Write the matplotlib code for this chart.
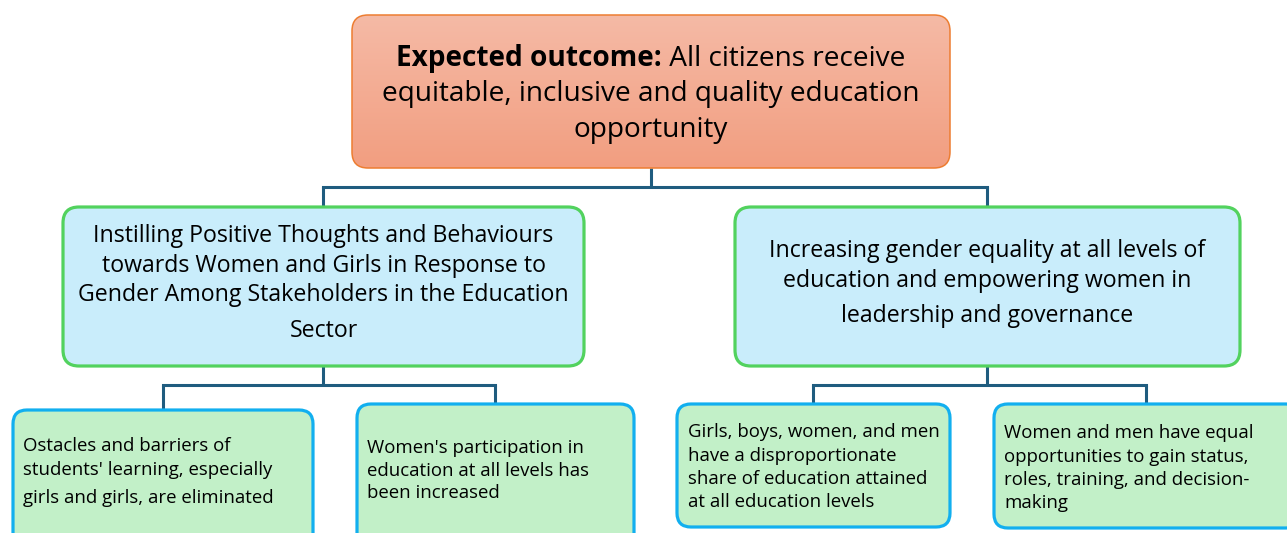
import matplotlib
matplotlib.use("Agg")
import numpy as np
import matplotlib.pyplot as plt
from matplotlib.patches import FancyBboxPatch
from matplotlib.colors import LinearSegmentedColormap

# ---------------- content ----------------
top_bold = "Expected outcome:"
top_rest = " All citizens receive"
top_lines = ["equitable, inclusive and quality education", "opportunity"]

mid_left_lines = [
    "Instilling Positive Thoughts and Behaviours",
    "towards Women and Girls in Response to",
    "Gender Among Stakeholders in the Education",
    "Sector",
]
mid_right_lines = [
    "Increasing gender equality at all levels of",
    "education and empowering women in",
    "leadership and governance",
]
bottom_texts = [
    ["Ostacles and barriers of", "students' learning, especially", "girls and girls, are eliminated"],
    ["Women's participation in", "education at all levels has", "been increased"],
    ["Girls, boys, women, and men", "have a disproportionate", "share of education attained", "at all education levels"],
    ["Women and men have equal", "opportunities to gain status,", "roles, training, and decision-", "making"],
]

# ---------------- layout (pixels, y downwards) ----------------
W, H = 1287, 533
top_box = (352, 15, 950, 168)
mid_boxes = [(63, 207, 584, 366), (735, 207, 1240, 366)]
bot_boxes = [(13, 410, 313, 548), (357, 404, 634, 548), (677, 404, 950, 527), (994, 404, 1300, 528)]

top_baselines = [66, 101, 137]
mid_baselines = [[242, 272, 301, 337], [257, 287, 322]]
bot_baselines = [[451, 475, 503], [453, 476, 498], [437, 461, 484, 507], [438, 462, 485, 508]]
bot_text_x = [23, 367, 688, 1004]

FONT = "Open Sans"
TOP_FS, MID_FS, BOT_FS = 20.2, 16.7, 13.4

CONN = "#1F5C7F"
CONN_LW = 2.2

fig = plt.figure(figsize=(W / 100, H / 100), dpi=100)
ax = fig.add_axes([0, 0, 1, 1])
ax.set_xlim(0, W)
ax.set_ylim(H, 0)
ax.axis("off")


def rbox(b, fc, ec, lw, r, z=2):
    x0, y0, x1, y1 = b
    p = FancyBboxPatch((x0, y0), x1 - x0, y1 - y0,
                       boxstyle=f"round,pad=0,rounding_size={r}",
                       fc=fc, ec=ec, lw=lw, zorder=z)
    ax.add_patch(p)
    return p


# connectors
def conn(parent_x, y_from, y_mid, child_xs, child_tops):
    ax.plot([parent_x, parent_x], [y_from, y_mid], color=CONN, lw=CONN_LW, zorder=1,
            solid_capstyle="butt")
    ax.plot([min(child_xs), max(child_xs)], [y_mid, y_mid], color=CONN, lw=CONN_LW, zorder=1,
            solid_joinstyle="miter", solid_capstyle="projecting")
    for cx, ct in zip(child_xs, child_tops):
        ax.plot([cx, cx], [y_mid, ct], color=CONN, lw=CONN_LW, zorder=1, solid_capstyle="butt")


conn(651, 168, 187, [323, 987], [208, 208])
conn(323, 366, 385, [163, 495], [411, 405])
conn(987, 366, 385, [813, 1146], [405, 405])

# top box with vertical gradient
tb = rbox(top_box, "none", "#ED7D31", 1.1, 16, z=3)
grad_cmap = LinearSegmentedColormap.from_list("g", ["#F5BAA6", "#F29E80"])
grad = np.linspace(0, 1, 256).reshape(-1, 1)
im = ax.imshow(grad, cmap=grad_cmap, aspect="auto",
               extent=(top_box[0], top_box[2], top_box[3], top_box[1]),
               origin="upper", zorder=2)
im.set_clip_path(tb)
ax.set_xlim(0, W)
ax.set_ylim(H, 0)

# middle boxes
for b in mid_boxes:
    rbox(b, "#C9EDFB", "#52D25E", 2.3, 16)

# bottom boxes
for b in bot_boxes:
    rbox(b, "#C2F0C8", "#12AFEF", 2.3, 14)

# ---------------- text ----------------
tb1 = ax.text(0, top_baselines[0], top_bold, fontsize=TOP_FS, family=FONT, weight="bold",
              va="baseline", ha="left", zorder=5)
tb2 = ax.text(0, top_baselines[0], top_rest, fontsize=TOP_FS, family=FONT,
              va="baseline", ha="left", zorder=5)
fig.canvas.draw()
r = fig.canvas.get_renderer()
w1 = tb1.get_window_extent(r).width
w2 = tb2.get_window_extent(r).width
start = 651 - (w1 + w2) / 2
tb1.set_x(start)
tb2.set_x(start + w1)

for line, yb in zip(top_lines, top_baselines[1:]):
    ax.text(651, yb, line, fontsize=TOP_FS, family=FONT, ha="center", va="baseline", zorder=5)

for b, lines, ybs in zip(mid_boxes, [mid_left_lines, mid_right_lines], mid_baselines):
    cx = (b[0] + b[2]) / 2
    for line, yb in zip(lines, ybs):
        ax.text(cx, yb, line, fontsize=MID_FS, family=FONT, ha="center", va="baseline", zorder=5)

for lines, ybs, x in zip(bottom_texts, bot_baselines, bot_text_x):
    for line, yb in zip(lines, ybs):
        ax.text(x, yb, line, fontsize=BOT_FS, family=FONT, ha="left", va="baseline", zorder=5)

fig.savefig("out.png", dpi=100)
